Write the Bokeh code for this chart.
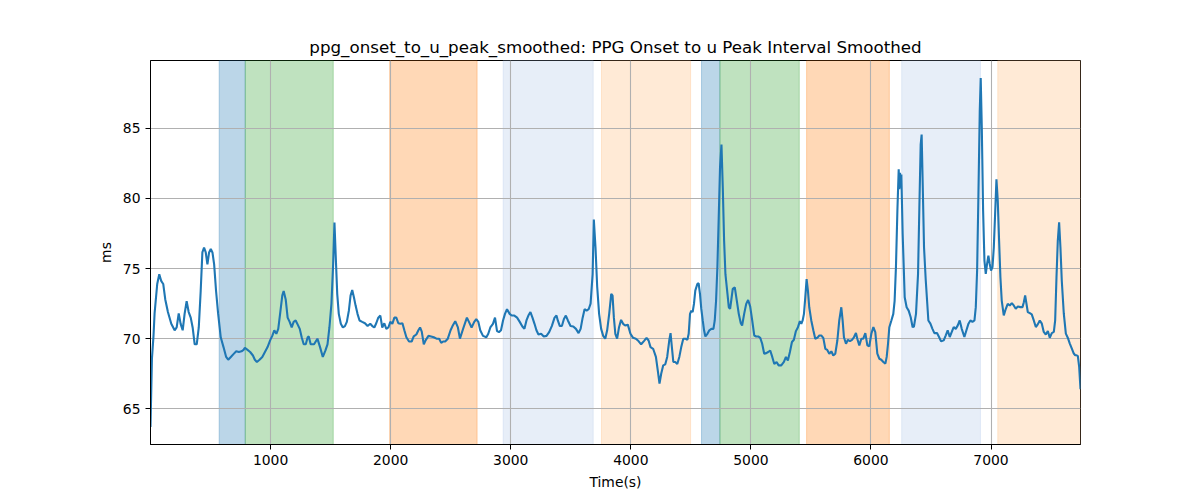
from bokeh.plotting import figure
from bokeh.models import BoxAnnotation, FixedTicker, Range1d, ColumnDataSource
from bokeh.embed import file_html
from bokeh.resources import INLINE

TITLE = "ppg_onset_to_u_peak_smoothed: PPG Onset to u Peak Interval Smoothed"

time_s = [
    0, 12, 25, 34, 56, 73, 90, 106, 123, 145, 173, 201, 218, 235, 251, 268, 284, 301, 318, 335,
    351, 368, 385, 402, 418, 432, 446, 460, 474, 488, 502, 516, 530, 546, 563, 585, 608, 630, 647, 669,
    691, 714, 736, 758, 775, 786, 808, 830, 853, 869, 886, 908, 931, 953, 975, 997, 1014, 1031, 1048, 1064,
    1081, 1098, 1109, 1126, 1142, 1159, 1176, 1192, 1209, 1226, 1243, 1259, 1276, 1293, 1309,
    1318, 1334, 1362, 1390, 1412, 1435, 1457, 1474, 1490, 1507, 1521, 1532, 1543, 1555, 1568, 1585, 1602, 1619, 1635, 1652,
    1666, 1680, 1694, 1708, 1724, 1741, 1763, 1786, 1808, 1830, 1847, 1864, 1880, 1897, 1914, 1930, 1947, 1964, 1981, 1997,
    2014, 2031, 2047, 2064, 2081, 2098, 2114, 2131, 2153, 2175, 2192, 2214, 2231, 2245, 2259, 2276, 2292, 2315, 2337, 2359,
    2382, 2404, 2421, 2437, 2454, 2476, 2499, 2515, 2538, 2560, 2577,
    2607, 2635, 2652, 2674, 2696, 2713, 2730, 2746, 2769, 2797, 2813, 2830, 2852, 2869, 2886, 2902, 2919, 2936, 2952, 2969,
    2991, 3008, 3030, 3053, 3075, 3097, 3114, 3131, 3147, 3164, 3181, 3198, 3214, 3231, 3253, 3275, 3298, 3320, 3342, 3365,
    3381, 3392, 3409, 3426, 3443, 3459, 3476, 3498, 3521, 3543, 3565, 3582, 3599, 3615, 3632, 3649, 3665, 3682, 3692, 3706,
    3720, 3736, 3753, 3770, 3787, 3803, 3820, 3837, 3848, 3859, 3871,
    3886, 3902, 3919, 3936, 3953, 3975, 3997, 4019, 4042, 4064, 4086, 4109, 4131, 4148, 4164, 4186, 4209, 4225, 4239, 4253,
    4270, 4287, 4303, 4320, 4331, 4342, 4354, 4370, 4387, 4404, 4420, 4437, 4454, 4471, 4482, 4493, 4504, 4515, 4526, 4537,
    4554, 4565, 4576, 4587, 4599, 4610, 4621, 4638, 4654, 4671, 4688, 4699, 4710, 4721, 4732, 4743, 4755, 4766, 4777, 4788,
    4805, 4816, 4827, 4838, 4849, 4866, 4883, 4899, 4916, 4927, 4944, 4961, 4977, 4994, 5011, 5028, 5044, 5061, 5078, 5094,
    5111, 5128, 5144, 5161, 5178, 5195,
    5214, 5231, 5253, 5275, 5292, 5308, 5325, 5342, 5358, 5375, 5392, 5408, 5420, 5431, 5442, 5453, 5464, 5475, 5486, 5503,
    5520, 5536, 5553, 5570, 5586, 5603, 5620, 5636, 5653, 5670, 5686, 5703, 5720, 5736, 5753, 5764, 5775, 5792, 5808, 5825,
    5842, 5858, 5875, 5886, 5903, 5920, 5936, 5953, 5970, 5986, 6003, 6020, 6036, 6053, 6070, 6086, 6103, 6120, 6131, 6142,
    6153, 6170, 6186, 6197, 6208, 6220, 6231, 6236, 6242, 6247, 6253, 6264, 6281, 6297, 6314, 6331, 6347, 6358, 6375, 6392,
    6403, 6414, 6422, 6431, 6442,
    6456, 6478, 6495, 6512, 6528, 6550, 6567, 6584, 6606, 6623, 6639, 6656, 6673, 6689, 6706, 6723, 6739, 6756, 6778, 6795,
    6812, 6828, 6845, 6862, 6873, 6884, 6895, 6906, 6914, 6923, 6934, 6945, 6956, 6967, 6978, 6989, 7000, 7012, 7023, 7034,
    7045, 7056, 7067, 7078, 7089, 7106, 7123, 7139, 7156, 7173, 7189, 7206, 7223, 7245, 7262, 7273, 7284, 7295, 7306, 7323,
    7339, 7356, 7373, 7389, 7406, 7423, 7439, 7456, 7473, 7489, 7506, 7523, 7534, 7545, 7556, 7567, 7578, 7589, 7606, 7623,
    7639, 7656, 7673, 7689, 7701, 7712, 7723, 7734, 7745,
]

onset_to_u_peak_ms = [
    63.7, 68.6, 70.2, 71.8, 73.9, 74.6, 74.1, 73.9, 72.8, 71.9, 71.06, 70.6, 70.8, 71.8, 71.06, 70.6, 71.77, 72.67, 71.9, 71.5,
    70.8, 69.6, 69.6, 70.8, 73.4, 76.15, 76.5, 76.15, 75.3, 76.15, 76.4, 76.15, 75.3, 73.4, 71.8, 70.1, 69.4, 68.7, 68.5, 68.7,
    68.9, 69.1, 69.05, 69.1, 69.2, 69.35, 69.2, 69.05, 68.8, 68.5, 68.34, 68.5, 68.7, 69.05, 69.4, 69.9, 70.2, 70.6, 70.35, 70.7,
    71.9, 73.1, 73.4, 72.8, 71.5, 71.2, 70.8, 71.2, 71.3, 71.0, 70.7, 70.1, 69.6, 69.6, 70.1,
    70.16, 69.6, 69.6, 70.0, 69.4, 68.7, 69.17, 69.6, 70.8, 72.5, 75.3, 78.28, 75.8, 73.2, 71.77, 71.06, 70.8, 70.9, 71.2, 72.0,
    73.07, 73.47, 72.95, 72.36, 71.77, 71.3, 71.2, 71.1, 70.9, 71.06, 70.9, 70.8, 71.1, 71.5, 71.65, 70.8, 71.1, 70.7, 70.8, 71.2,
    71.06, 71.5, 71.5, 71.1, 71.06, 71.1, 70.6, 70.1, 69.8, 69.8, 70.16, 70.3, 70.6, 70.8, 70.5, 69.6, 69.9, 70.2, 70.16, 70.1,
    70.0, 70.0, 69.7, 69.8, 69.8, 70.0, 70.6, 70.9, 71.25, 70.8, 70.0,
    70.8, 71.5, 71.2, 70.8, 71.2, 71.4, 71.2, 70.6, 70.2, 70.1, 70.35, 70.8, 71.06, 71.5, 70.54, 70.47, 70.6, 71.3, 71.77, 72.1,
    71.77, 71.65, 71.65, 71.5, 71.2, 70.87, 70.7, 71.3, 71.65, 71.9, 71.5, 71.06, 70.6, 70.3, 70.35, 70.16, 70.2, 70.47, 70.9, 71.5,
    71.65, 71.3, 70.9, 70.9, 71.4, 71.65, 71.3, 70.9, 70.87, 70.7, 70.4, 70.7, 71.5, 72.1, 72.0, 72.1, 72.5, 74.6, 78.5, 76.5,
    73.7, 71.77, 70.7, 70.2, 70.0, 70.6, 71.77, 73.2, 73.07, 71.5, 70.35,
    70.0, 70.82, 71.34, 71.06, 70.94, 71.0, 70.35, 70.06, 70.0, 69.83, 69.6, 69.83, 70.06, 69.87, 69.4, 69.28, 68.7, 67.7, 66.8, 67.5,
    68.1, 68.17, 68.7, 69.87, 70.4, 69.4, 68.34, 68.34, 68.2, 68.7, 69.4, 70.0, 70.0, 69.92, 70.35, 71.77, 72.0, 71.9, 72.48, 73.43,
    73.9, 73.95, 73.19, 72.12, 71.3, 70.6, 70.16, 70.35, 70.6, 70.7, 70.7, 71.3, 72.7, 75.1, 78.6, 82.2, 83.84, 80.76, 76.98, 74.6,
    73.19, 72.24, 72.12, 72.83, 73.55, 73.66, 72.7, 71.77, 71.1, 70.94, 71.77, 72.48, 72.76, 72.3, 71.3, 70.23, 70.16, 70.16, 70.06, 69.64,
    68.93, 68.97, 69.05, 69.16, 68.7, 68.2,
    68.34, 68.1, 68.1, 68.34, 68.7, 68.45, 69.05, 69.76, 69.92, 70.54, 70.82, 71.25, 71.06, 71.3, 71.77, 72.95, 74.25, 73.43, 72.24, 71.3,
    70.6, 70.0, 70.06, 70.23, 70.23, 70.06, 69.28, 69.2, 68.93, 69.1, 68.8, 68.93, 69.87, 71.3, 72.24, 71.3, 70.1, 69.64, 69.92, 69.83,
    69.92, 70.1, 70.4, 70.0, 69.52, 70.0, 70.0, 70.4, 69.52, 69.45, 70.35, 70.82, 70.47, 68.93, 68.57, 68.5, 68.34, 68.22, 68.7, 69.64,
    70.82, 71.3, 71.77, 72.7, 75.1, 79.1, 82.07, 80.65, 81.83, 80.76, 81.7, 77.45, 72.95, 72.24, 72.0, 71.53, 70.82, 70.87, 71.77, 74.6,
    79.34, 83.84, 84.55, 81.0, 76.5,
    74.2, 71.3, 71.07, 70.7, 70.4, 70.4, 70.12, 69.81, 69.88, 70.24, 70.6, 70.12, 70.48, 70.83, 70.7, 70.95, 71.3, 70.7, 70.12, 70.6,
    71.07, 71.3, 71.2, 71.3, 72.25, 74.86, 80.3, 86.22, 88.59, 85.04, 79.1, 75.57, 74.62, 75.33, 75.92, 75.33, 74.86, 75.1, 76.5, 78.9,
    81.37, 79.83, 77.0, 74.38, 72.72, 71.66, 72.13, 72.49, 72.37, 72.54, 72.37, 72.13, 72.3, 72.25, 72.25, 72.6, 73.08, 72.49, 71.9, 71.82,
    71.73, 71.3, 70.83, 71.02, 71.3, 71.07, 70.48, 70.3, 70.55, 70.07, 70.4, 70.48, 71.3, 74.38, 77.0, 78.29, 76.5, 74.15, 71.78, 70.36,
    70.07, 69.65, 69.29, 68.94, 68.82, 68.82, 68.75, 67.99, 66.4,
]

# shaded intervals (seconds) and their category
span_start = [572, 789, 1992, 2937, 3756, 4589, 4742, 5464, 6256, 7056]
span_end = [789, 1522, 2720, 3687, 4498, 4742, 5403, 6153, 6912, 7745]
span_kind = ["blue", "green", "orange", "lightblue", "lightorange",
             "blue", "green", "orange", "lightblue", "lightorange"]

x_ticks = [1000, 2000, 3000, 4000, 5000, 6000, 7000]
y_ticks = [65, 70, 75, 80, 85]

KIND_COLOR = {
    "blue": "#1f77b4",
    "green": "#2ca02c",
    "orange": "#ff7f0e",
    "lightblue": "#aec7e8",
    "lightorange": "#ffbb78",
}

n = min(len(time_s), len(onset_to_u_peak_ms))
xs = time_s[:n]
ys = onset_to_u_peak_ms[:n]

ymin, ymax = min(ys), max(ys)
pad = 0.05 * (ymax - ymin)

FONT = "DejaVu Sans"

p = figure(
    width=1192, height=492,
    output_backend="svg", toolbar_location=None,
    x_range=Range1d(xs[0], xs[-1]),
    y_range=Range1d(ymin - pad, ymax + pad),
    min_border_left=150, min_border_right=112,
    min_border_top=60, min_border_bottom=47,
)

p.title.text = TITLE
p.title.align = "center"
p.title.text_font = FONT
p.title.text_font_size = "16.7px"
p.title.text_font_style = "normal"
p.title.text_color = "black"
p.title.standoff = 8

for s, e, k in zip(span_start, span_end, span_kind):
    c = KIND_COLOR[k]
    p.add_layout(BoxAnnotation(left=s, right=e, fill_color=c, fill_alpha=0.3,
                               line_color=c, line_alpha=0.3, line_width=1,
                               level="image"))

src = ColumnDataSource(dict(x=xs, y=ys))
p.line("x", "y", source=src, line_color="#1f77b4", line_width=2.1)

p.xaxis.ticker = FixedTicker(ticks=x_ticks)
p.yaxis.ticker = FixedTicker(ticks=y_ticks)
p.xaxis.axis_label = "Time(s)"
p.yaxis.axis_label = "ms"

for ax in (p.xaxis, p.yaxis):
    ax.axis_label_text_font = FONT
    ax.axis_label_text_font_size = "13.9px"
    ax.axis_label_text_font_style = "normal"
    ax.axis_label_text_color = "black"
    ax.major_label_text_font = FONT
    ax.major_label_text_font_size = "13.9px"
    ax.major_label_text_color = "black"
    ax.major_tick_out = 5
    ax.major_tick_in = 0
    ax.major_tick_line_color = "black"
    ax.minor_tick_line_color = None
    ax.axis_line_color = "black"
    ax.major_label_standoff = 5
    ax.axis_label_standoff = 6

p.grid.grid_line_color = "#b0b0b0"
p.grid.grid_line_width = 1.1
p.grid.grid_line_alpha = 1.0

p.outline_line_color = "black"
p.outline_line_alpha = 1.0
p.outline_line_width = 1

p.background_fill_color = "white"
p.border_fill_color = "white"

open("out.html", "w").write(file_html(p, INLINE))
